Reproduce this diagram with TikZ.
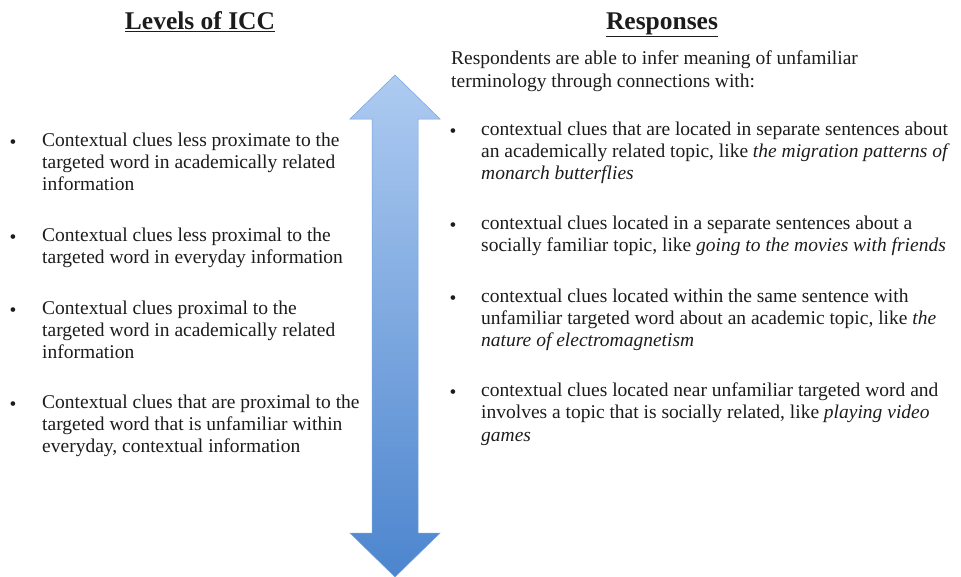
\documentclass[tikz,border=0pt]{standalone}
\usepackage{fontspec}
\setmainfont{Liberation Serif}
\usetikzlibrary{positioning}
\definecolor{arrowtop}{RGB}{174,203,241}
\definecolor{arrowbot}{RGB}{76,133,206}
\definecolor{ink}{RGB}{28,28,28}

\begin{document}
\begin{tikzpicture}[x=1pt, y=-1pt,
    heading/.style={font=\fontsize{25.5}{30}\selectfont\bfseries, inner sep=0pt, anchor=base, text=ink},
    item/.style={font=\fontsize{19.5}{22.4}\selectfont, align=left, inner sep=0pt,
      anchor=north west, yshift=15.68pt, execute at begin node=\strut, text=ink},
    bullet/.style={font=\fontsize{19.5}{22.4}\selectfont, inner sep=0pt, anchor=base, text=ink}]

  \useasboundingbox (0,0) rectangle (961,576);

  % double arrow
  \shade[top color=arrowtop, bottom color=arrowbot, draw=arrowbot!60!arrowtop, line width=0.5pt]
    (395,75) -- (440,119) -- (418,119) -- (418,533) -- (440,533) -- (395,577)
    -- (350,533) -- (372,533) -- (372,119) -- (350,119) -- cycle;

  % headings
  \node[heading] (levels) at (200,29.5) {\underline{Levels of ICC}};
  \node[heading] (responses) at (662,29.5) {\underline{Responses}};

  % left column
  \node[item] (l1) at (42,148) {Contextual clues less proximate to the\\
    targeted word in academically related\\ information};
  \node[item] (l2) at (42,243) {Contextual clues less proximal to the\\
    targeted word in everyday information};
  \node[item] (l3) at (42,316) {Contextual clues proximal to the\\
    targeted word in academically related\\ information};
  \node[item] (l4) at (42,410) {Contextual clues that are proximal to the\\
    targeted word that is unfamiliar within\\ everyday, contextual information};

  \foreach \n in {l1,l2,l3,l4}
    \node[bullet] (b\n) at ([xshift=-29pt, yshift=-15.68pt]\n.north west) {•};

  % right column
  \node[item] (intro) at (451,66.7) {Respondents are able to infer meaning of unfamiliar\\
    terminology through connections with:};
  \node[item] (r1) at (481,137) {contextual clues that are located in separate sentences about\\
    an academically related topic, like \textit{the migration patterns of}\\
    \textit{monarch butterflies}};
  \node[item] (r2) at (481,231) {contextual clues located in a separate sentences about a\\
    socially familiar topic, like \textit{going to the movies with friends}};
  \node[item] (r3) at (481,304) {contextual clues located within the same sentence with\\
    unfamiliar targeted word about an academic topic, like \textit{the}\\
    \textit{nature of electromagnetism}};
  \node[item] (r4) at (481,398) {contextual clues located near unfamiliar targeted word and\\
    involves a topic that is socially related, like \textit{playing video}\\
    \textit{games}};

  \foreach \n in {r1,r2,r3,r4}
    \node[bullet] (b\n) at ([xshift=-28pt, yshift=-15.68pt]\n.north west) {•};
\end{tikzpicture}
\end{document}
